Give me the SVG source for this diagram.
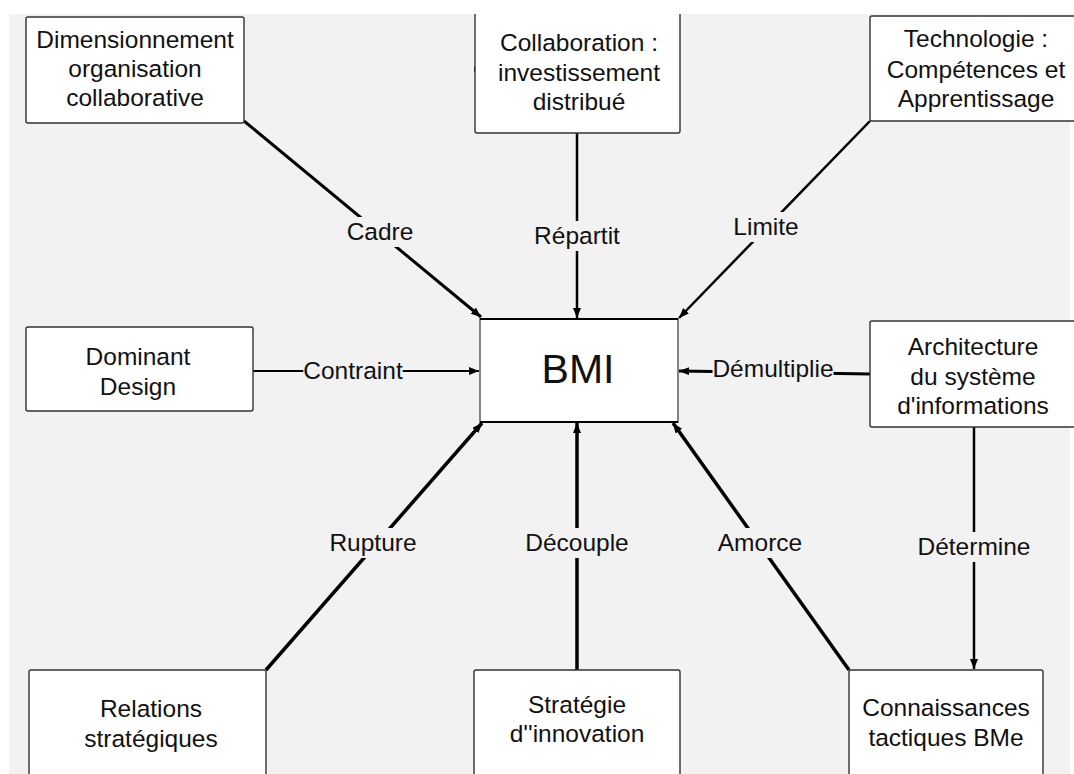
<svg xmlns="http://www.w3.org/2000/svg" width="1074" height="774" viewBox="0 0 1074 774">
<defs>
<style>
.box{fill:#fff;stroke:#333;stroke-width:1.4}
.t{font-family:"Liberation Sans",Arial,sans-serif;font-size:24.5px;fill:#111;text-anchor:middle}
.big{font-size:41px}
.e{stroke:#000;fill:none}
.lb{fill:#f2f2f2}
</style>
<marker id="ah" markerUnits="userSpaceOnUse" markerWidth="11" markerHeight="9" refX="10" refY="4" orient="auto">
<path d="M0,0 L10,4 L0,8 z" fill="#000"/>
</marker>
<clipPath id="clip"><rect x="0" y="14" width="1074" height="760"/></clipPath>
</defs>
<rect width="1074" height="774" fill="#fff"/>
<g clip-path="url(#clip)">
<rect x="9" y="14" width="1061" height="760" fill="#f2f2f2"/>

<g id="connectors">
<line class="e" x1="244" y1="121" x2="481" y2="317" stroke-width="3" marker-end="url(#ah)"/>
<line class="e" x1="577" y1="133" x2="577" y2="318" stroke-width="2.5" marker-end="url(#ah)"/>
<line class="e" x1="870" y1="121" x2="679" y2="318" stroke-width="2.5" marker-end="url(#ah)"/>
<line class="e" x1="253" y1="371" x2="479" y2="371" stroke-width="2" marker-end="url(#ah)"/>
<line class="e" x1="870" y1="374" x2="679" y2="371" stroke-width="3" marker-end="url(#ah)"/>
<line class="e" x1="266" y1="670" x2="482" y2="423" stroke-width="3.5" marker-end="url(#ah)"/>
<line class="e" x1="577" y1="670" x2="577" y2="423" stroke-width="3.5" marker-end="url(#ah)"/>
<line class="e" x1="849" y1="670" x2="673" y2="423" stroke-width="3.5" marker-end="url(#ah)"/>
<line class="e" x1="974" y1="427" x2="974" y2="669" stroke-width="2.5" marker-end="url(#ah)"/>
<path d="M474,66 L479,69 L474,72 z" fill="#000"/>

<rect class="lb" x="346.6" y="217" width="66.7" height="30"/>
<text class="t" x="380" y="240">Cadre</text>
<rect class="lb" x="534.1" y="221" width="85.8" height="30"/>
<text class="t" x="577" y="244">Répartit</text>
<rect class="lb" x="733.3" y="212" width="65.3" height="30"/>
<text class="t" x="766" y="235">Limite</text>
<rect class="lb" x="303.3" y="356" width="99.4" height="30"/>
<text class="t" x="353" y="379">Contraint</text>
<rect class="lb" x="712.5" y="354" width="121" height="30"/>
<text class="t" x="773" y="377">Démultiplie</text>
<rect class="lb" x="329.5" y="528" width="87" height="30"/>
<text class="t" x="373" y="551">Rupture</text>
<rect class="lb" x="525.2" y="528" width="103.5" height="30"/>
<text class="t" x="577" y="551">Découple</text>
<rect class="lb" x="717.8" y="528" width="84.4" height="30"/>
<text class="t" x="760" y="551">Amorce</text>
<rect class="lb" x="917.5" y="532" width="113" height="30"/>
<text class="t" x="974" y="555">Détermine</text>
</g>

<g id="n-dimensionnement">
<rect class="box" x="26" y="17" width="218" height="106" rx="2"/>
<text class="t" x="135" y="48">Dimensionnement</text>
<text class="t" x="135" y="77">organisation</text>
<text class="t" x="135" y="106">collaborative</text>
</g>
<g id="n-collaboration">
<rect class="box" x="475" y="-10" width="205" height="143" rx="2"/>
<text class="t" x="579" y="51">Collaboration :</text>
<text class="t" x="579" y="81">investissement</text>
<text class="t" x="579" y="110">distribué</text>
</g>
<g id="n-technologie">
<rect class="box" x="870" y="16" width="215" height="105" rx="2"/>
<text class="t" x="976" y="47">Technologie :</text>
<text class="t" x="976" y="78">Compétences et</text>
<text class="t" x="976" y="107">Apprentissage</text>
</g>
<g id="n-bmi">
<rect x="480" y="319" width="198" height="103" fill="#fff" stroke="#777" stroke-width="1.8"/>
<line x1="480" y1="319" x2="678" y2="319" stroke="#000" stroke-width="1.8"/>
<line x1="480" y1="422" x2="678" y2="422" stroke="#000" stroke-width="1.8"/>
<text class="t big" x="578" y="383">BMI</text>
</g>
<g id="n-dominant">
<rect class="box" x="26" y="327" width="227" height="84" rx="2"/>
<text class="t" x="138" y="365">Dominant</text>
<text class="t" x="138" y="395">Design</text>
</g>
<g id="n-architecture">
<rect class="box" x="870" y="321" width="215" height="106" rx="2"/>
<text class="t" x="973" y="355">Architecture</text>
<text class="t" x="973" y="385">du système</text>
<text class="t" x="973" y="414">d'informations</text>
</g>
<g id="n-relations">
<rect class="box" x="29" y="670" width="237" height="110" rx="2"/>
<text class="t" x="151" y="717">Relations</text>
<text class="t" x="151" y="747">stratégiques</text>
</g>
<g id="n-strategie">
<rect class="box" x="474" y="670" width="206" height="110" rx="2"/>
<text class="t" x="577" y="713">Stratégie</text>
<text class="t" x="577" y="742">d''innovation</text>
</g>
<g id="n-connaissances">
<rect class="box" x="849" y="670" width="194" height="110" rx="2"/>
<text class="t" x="946" y="716">Connaissances</text>
<text class="t" x="946" y="746">tactiques BMe</text>
</g>
</g>
</svg>
